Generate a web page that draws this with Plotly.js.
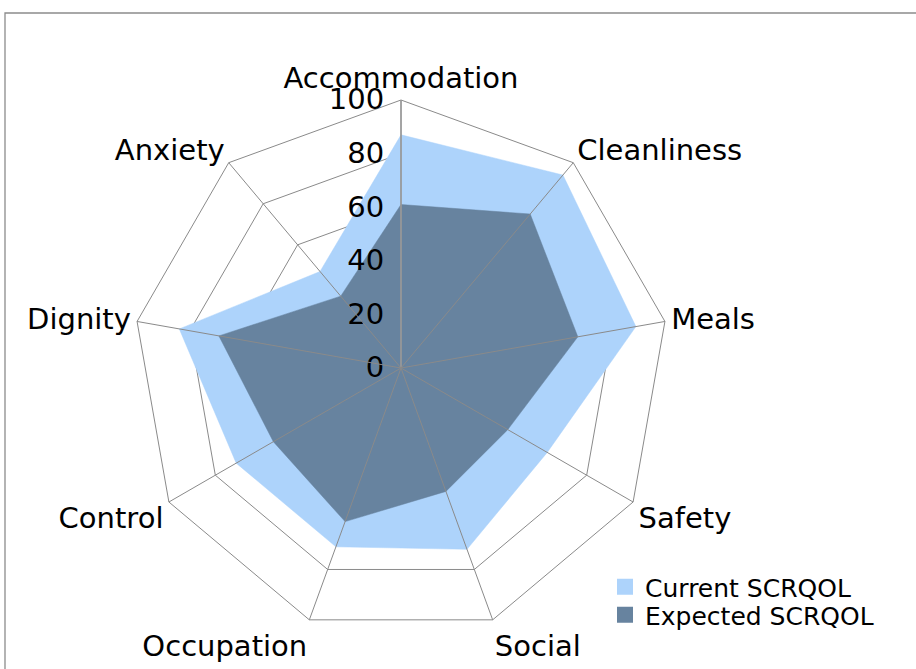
<!DOCTYPE html>
<html>
<head>
<meta charset="utf-8">
<script src="https://cdn.plot.ly/plotly-3.0.1.min.js"></script>
<style>html,body{margin:0;padding:0;background:#fff;}#chart{width:916px;height:669px;}</style>
</head>
<body>
<div id="chart"></div>
<script>
const categories = ["Accommodation", "Cleanliness", "Meals", "Safety", "Social", "Occupation", "Control", "Dignity", "Anxiety"];
const currentValues = [87, 94, 89, 63, 72, 71, 71, 84, 47];
const expectedValues = [61, 75, 67, 46, 49, 61, 55, 69, 35];
const seriesNames = ["Current SCRQOL", "Expected SCRQOL"];
const radialTicks = [0, 20, 40, 60, 80, 100];

const FONT = "DejaVu Sans, Verdana, sans-serif";
const lightBlue = "#add3fb";
const darkBlue = "#67839f";

function closed(a) { return a.concat([a[0]]); }

const traces = [
  {
    type: "scatterpolar", subplot: "polar",
    r: closed(currentValues), theta: closed(categories),
    mode: "lines", fill: "toself", fillcolor: lightBlue,
    line: {color: lightBlue, width: 0.5}, name: seriesNames[0], showlegend: false, hoverinfo: "skip"
  },
  {
    type: "scatterpolar", subplot: "polar",
    r: closed(expectedValues), theta: closed(categories),
    mode: "lines", fill: "toself", fillcolor: darkBlue,
    line: {color: darkBlue, width: 0.5}, name: seriesNames[1], showlegend: false, hoverinfo: "skip"
  },
  {
    type: "scatterpolar", subplot: "polar2",
    r: categories.map(() => null), theta: categories,
    mode: "markers", showlegend: false, hoverinfo: "skip"
  },
  {
    type: "scatterpolar", subplot: "polar", r: [null], theta: [categories[0]],
    mode: "markers", marker: {symbol: "square", size: 16, color: lightBlue},
    name: seriesNames[0], legend: "legend", showlegend: true
  },
  {
    type: "scatterpolar", subplot: "polar", r: [null], theta: [categories[0]],
    mode: "markers", marker: {symbol: "square", size: 16, color: darkBlue},
    name: seriesNames[1], legend: "legend2", showlegend: true
  }
];

const dom = {
  x: [(401 - 268) / 916, (401 + 268) / 916],
  y: [(301 - 268) / 669, (301 + 268) / 669]
};

const layout = {
  width: 916, height: 669,
  margin: {l: 0, r: 0, t: 0, b: 0},
  paper_bgcolor: "#ffffff",
  font: {family: FONT, size: 28, color: "#000000"},
  polar: {
    domain: dom,
    bgcolor: "#ffffff",
    gridshape: "linear",
    radialaxis: {
      range: [0, 100], tickvals: radialTicks, ticktext: radialTicks.map(String),
      angle: 90, side: "counterclockwise", tickangle: 90,
      showline: true, linecolor: "#aaaaaa", linewidth: 1.5,
      ticks: "outside", ticklen: 6, tickcolor: "rgba(0,0,0,0)",
      gridcolor: "#8a8a8a", gridwidth: 1,
      tickfont: {family: FONT, size: 29, color: "#000"}
    },
    angularaxis: {
      type: "category", categoryorder: "array", categoryarray: categories,
      rotation: 90, direction: "clockwise",
      showline: true, linecolor: "#8a8a8a", linewidth: 1,
      showgrid: false, ticks: "",
      tickfont: {family: FONT, size: 29, color: "#000"}
    }
  },
  polar2: {
    domain: dom,
    bgcolor: "rgba(0,0,0,0)",
    gridshape: "linear",
    radialaxis: {visible: false, range: [0, 100], showgrid: false},
    angularaxis: {
      type: "category", categoryorder: "array", categoryarray: categories,
      rotation: 90, direction: "clockwise",
      showline: false, showticklabels: false, ticks: "",
      showgrid: true, gridcolor: "#8a8a8a", gridwidth: 1
    }
  },
  legend: {
    x: 605 / 916, xanchor: "left", y: 1 - 587 / 669, yanchor: "middle",
    bgcolor: "rgba(0,0,0,0)", borderwidth: 0,
    font: {family: FONT, size: 25, color: "#000"}
  },
  legend2: {
    x: 605 / 916, xanchor: "left", y: 1 - 615 / 669, yanchor: "middle",
    bgcolor: "rgba(0,0,0,0)", borderwidth: 0,
    font: {family: FONT, size: 25, color: "#000"}
  },
  shapes: [
    {type: "rect", xref: "paper", yref: "paper",
     x0: 5 / 916, x1: 1.05, y0: -0.05, y1: 1 - 13 / 669,
     line: {color: "#8c8c8c", width: 1.3}, fillcolor: "rgba(0,0,0,0)", layer: "below"}
  ],
  showlegend: true
};

Plotly.newPlot("chart", traces, layout, {displayModeBar: false, staticPlot: true});
</script>
</body>
</html>
